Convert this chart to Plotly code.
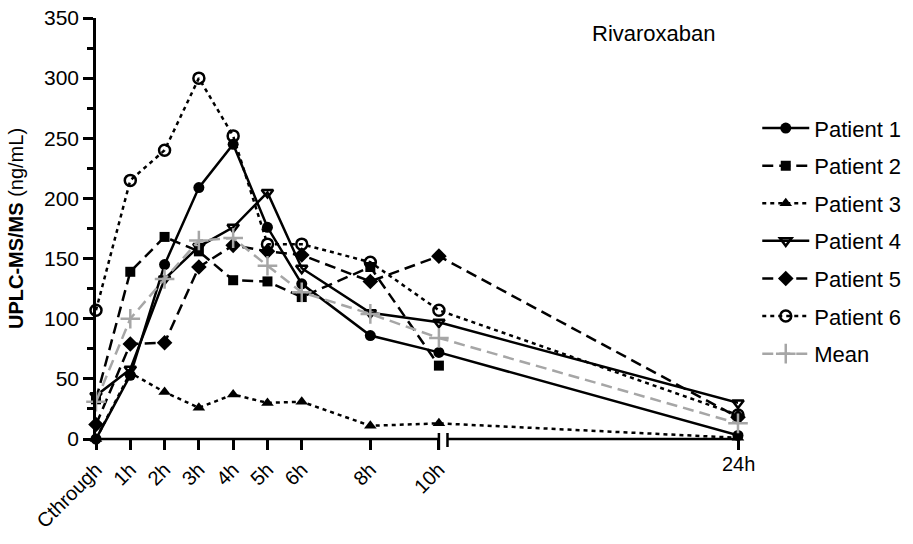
import plotly.graph_objects as go

# ---- data ----
time_labels = ["Cthrough", "1h", "2h", "3h", "4h", "5h", "6h", "8h", "10h", "24h"]
hours = [0, 1, 2, 3, 4, 5, 6, 8, 10, 24]

patient1 = [0, 53, 145, 209, 245, 176, 129, 86, 72, 3]
patient2 = [33, 139, 168, 156, 132, 131, 118, 143, 61, None]
patient3 = [0, 55, 39, 26, 37, 30, 31, 11, 13, 1]
patient4 = [36, 58, 133, 160, 176, 205, 142, 105, 97, 30]
patient5 = [12, 79, 80, 143, 161, 156, 153, 131, 152, 18]
patient6 = [107, 215, 240, 300, 252, 162, 162, 147, 107, 20]
mean_vals = [31, 100, 133, 165, 167, 144, 122, 104, 84, 13]

y_ticks = [0, 50, 100, 150, 200, 250, 300, 350]

# ---- broken x-axis scale (segment after 10h compressed) ----
BREAK_AT = 10
BREAK_GAP = 0.25
SCALE2 = 0.623


def xpos(h):
    if h <= BREAK_AT:
        return h
    return BREAK_AT + (h - BREAK_AT) * SCALE2


xs = [xpos(h) for h in hours]
x_end = xs[-1]

FONT = "Liberation Sans, Arial, sans-serif"
BLACK = "#000000"
GRAY = "#a6a6a6"
LW = 2.5

series = [
    ("Patient 1", patient1, BLACK, "solid", "circle", BLACK, 11),
    ("Patient 2", patient2, BLACK, "11px,6px", "square", BLACK, 10),
    ("Patient 3", patient3, BLACK, "4px,4px", "triangle-up", BLACK, 11),
    ("Patient 4", patient4, BLACK, "solid", "triangle-down-open", BLACK, 10),
    ("Patient 5", patient5, BLACK, "11px,6px", "diamond", BLACK, 12),
    ("Patient 6", patient6, BLACK, "4px,4px", "circle-open", BLACK, 11),
    ("Mean", mean_vals, GRAY, "11px,6px", "cross-thin", GRAY, 14),
]

fig = go.Figure()
for name, vals, col, dash, sym, mcol, msize in series:
    open_like = sym.endswith("open") or sym == "cross-thin"
    fig.add_trace(go.Scatter(
        x=xs, y=vals, name=name, mode="lines+markers",
        legendgroup=name,
        line=dict(color=col, width=LW, dash=dash),
        marker=dict(symbol=sym, size=msize, color=mcol,
                    line=dict(color=mcol, width=2.5 if open_like else 0)),
        cliponaxis=False, connectgaps=False,
    ))

# axis line with break
y_px = 421.0
shapes = [
    dict(type="line", xref="x", yref="paper", x0=0, x1=BREAK_AT, y0=0, y1=0,
         line=dict(color=BLACK, width=LW)),
    dict(type="line", xref="x", yref="paper", x0=BREAK_AT + BREAK_GAP, x1=x_end, y0=0, y1=0,
         line=dict(color=BLACK, width=LW)),
    dict(type="line", xref="x", yref="paper", x0=BREAK_AT, x1=BREAK_AT, y0=6 / y_px, y1=-11 / y_px,
         line=dict(color=BLACK, width=LW)),
    dict(type="line", xref="x", yref="paper", x0=BREAK_AT + BREAK_GAP, x1=BREAK_AT + BREAK_GAP,
         y0=6 / y_px, y1=-8 / y_px, line=dict(color=BLACK, width=LW)),
]

# the last segment's label is horizontal in the original, the rest rotated
tick_text_rot = [t if h <= BREAK_AT else "" for t, h in zip(time_labels, hours)]
annotations = [
    dict(text="Rivaroxaban", xref="paper", yref="paper",
         x=0.869, y=0.964, xanchor="center", yanchor="middle",
         showarrow=False, font=dict(family=FONT, size=22, color=BLACK)),
]
for t, h in zip(time_labels, hours):
    if h > BREAK_AT:
        annotations.append(dict(text=t, xref="x", yref="paper", x=xpos(h), y=-25 / y_px,
                                xanchor="center", yanchor="middle", showarrow=False,
                                font=dict(family=FONT, size=20, color=BLACK)))

fig.update_layout(
    width=913, height=544,
    margin=dict(l=96, r=175, t=18, b=105, autoexpand=False),
    paper_bgcolor="white", plot_bgcolor="white",
    font=dict(family=FONT, color=BLACK, size=21),
    showlegend=True,
    legend=dict(x=1.03, y=0.788, xanchor="left", yanchor="top",
                font=dict(family=FONT, size=22, color=BLACK),
                tracegroupgap=6, itemwidth=47, bgcolor="rgba(0,0,0,0)",
                traceorder="grouped"),
    shapes=shapes,
    annotations=annotations,
)

fig.update_xaxes(
    range=[0, x_end], showgrid=False, zeroline=False, showline=False,
    tickmode="array", tickvals=[xpos(h) for h in hours], ticktext=tick_text_rot,
    ticks="outside", ticklen=10, tickwidth=LW, tickcolor=BLACK,
    tickangle=-45, tickfont=dict(family=FONT, size=20, color=BLACK),
    ticklabeloverflow="allow",
)
fig.update_yaxes(
    range=[0, 350], showgrid=False, zeroline=False, showline=True,
    linecolor=BLACK, linewidth=LW,
    tickmode="array", tickvals=y_ticks,
    ticks="outside", ticklen=10, tickwidth=LW, tickcolor=BLACK,
    minor=dict(dtick=25, ticks="outside", ticklen=6, tickwidth=LW, tickcolor=BLACK, showgrid=False),
    tickfont=dict(family=FONT, size=21, color=BLACK),
    ticklabeloverflow="allow",
    title=dict(text="<b>UPLC-MS/MS</b> (ng/mL)", font=dict(family=FONT, size=20, color=BLACK),
               standoff=16),
)

# remove the default 8px page margin so the figure fills the window exactly
fig.write_html(
    "out.html",
    config={"displayModeBar": False},
    post_script="document.body.style.margin='0';document.body.style.overflow='hidden';",
)
